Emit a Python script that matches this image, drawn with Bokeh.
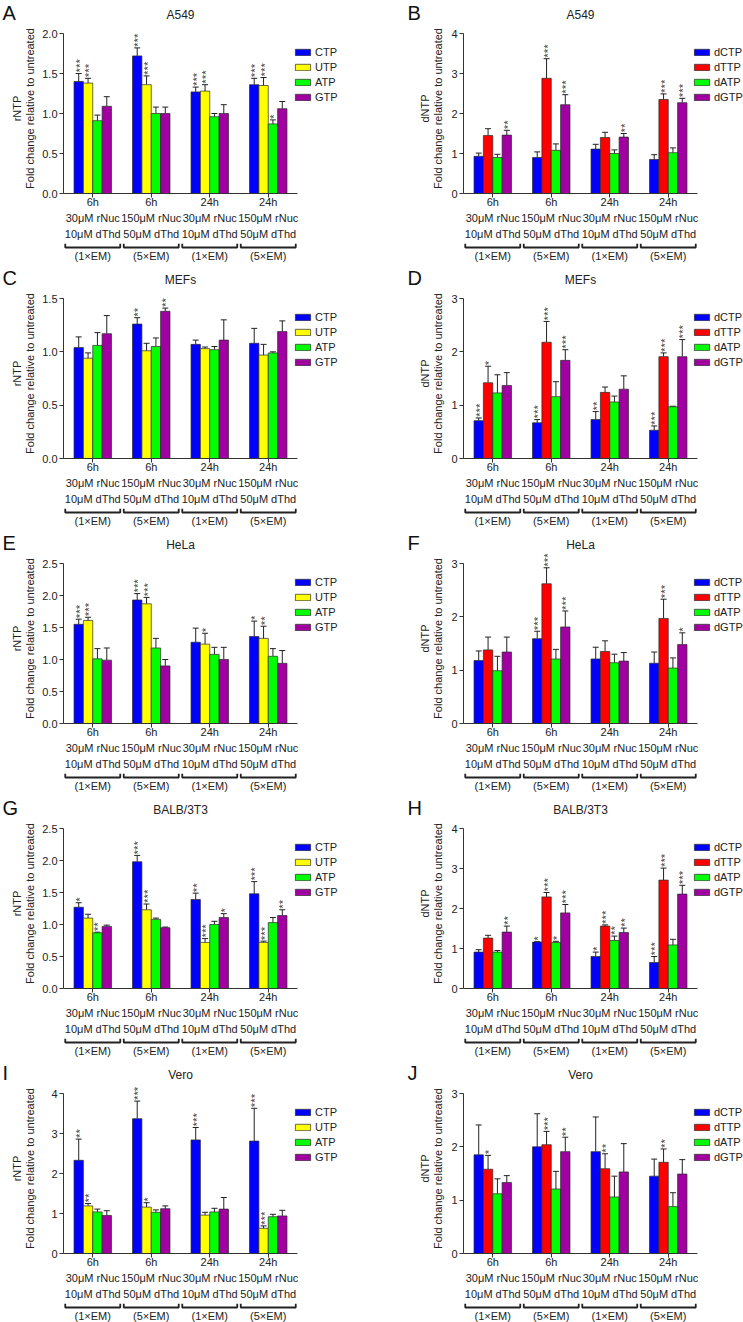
from bokeh.plotting import figure
from bokeh.models import (ColumnDataSource, Range1d, FixedTicker, Legend, LegendItem,
                          Whisker, TeeHead, NumeralTickFormatter)
from bokeh.layouts import column, row
from bokeh.embed import file_html
from bokeh.resources import INLINE
from bokeh.core.properties import value

FONT = "Liberation Sans"
INK = "#222222"

# ---------------------------------------------------------------- data
conditions = ["6h\n30μM rNuc\n10μM dThd", "6h\n150μM rNuc\n50μM dThd",
              "24h\n30μM rNuc\n10μM dThd", "24h\n150μM rNuc\n50μM dThd"]
regimens = ["(1×EM)", "(5×EM)", "(1×EM)", "(5×EM)"]

rntp_names = ["CTP", "UTP", "ATP", "GTP"]
dntp_names = ["dCTP", "dTTP", "dATP", "dGTP"]
rntp_colors = ["#0000ff", "#ffff00", "#00ff00", "#a000a0"]
dntp_colors = ["#0000ff", "#ff0000", "#00ff00", "#a000a0"]

# rows = nucleotide, columns = condition
a549_rntp_mean = [[1.40, 1.72, 1.27, 1.36], [1.38, 1.36, 1.28, 1.35],
                  [0.91, 1.00, 0.96, 0.87], [1.09, 1.00, 1.00, 1.06]]
a549_rntp_sem = [[0.10, 0.10, 0.06, 0.08], [0.06, 0.11, 0.08, 0.10],
                 [0.07, 0.08, 0.04, 0.05], [0.12, 0.08, 0.11, 0.09]]
a549_rntp_sig = [["***", "***", "***", "***"], ["***", "***", "***", "***"],
                 ["", "", "", "*"], ["", "", "", ""]]

a549_dntp_mean = [[0.93, 0.90, 1.11, 0.85], [1.45, 2.88, 1.40, 2.35],
                  [0.90, 1.08, 1.00, 1.02], [1.46, 2.22, 1.41, 2.27]]
a549_dntp_sem = [[0.08, 0.14, 0.12, 0.12], [0.17, 0.49, 0.13, 0.14],
                 [0.08, 0.16, 0.09, 0.12], [0.12, 0.25, 0.09, 0.11]]
a549_dntp_sig = [["", "", "", ""], ["", "***", "", "***"],
                 ["", "", "", ""], ["**", "***", "**", "***"]]

mefs_rntp_mean = [[1.04, 1.26, 1.07, 1.08], [0.94, 1.01, 1.03, 0.97],
                  [1.06, 1.05, 1.02, 0.99], [1.17, 1.38, 1.11, 1.19]]
mefs_rntp_sem = [[0.10, 0.06, 0.04, 0.14], [0.05, 0.07, 0.015, 0.10],
                 [0.12, 0.08, 0.03, 0.01], [0.17, 0.03, 0.19, 0.10]]
mefs_rntp_sig = [["", "**", "", ""], ["", "", "", ""],
                 ["", "", "", ""], ["", "**", "", ""]]

mefs_dntp_mean = [[0.71, 0.67, 0.73, 0.53], [1.42, 2.18, 1.24, 1.91],
                  [1.23, 1.16, 1.06, 0.97], [1.37, 1.84, 1.30, 1.91]]
mefs_dntp_sem = [[0.05, 0.06, 0.15, 0.08], [0.31, 0.39, 0.10, 0.07],
                 [0.34, 0.28, 0.11, 0.01], [0.24, 0.20, 0.25, 0.32]]
mefs_dntp_sig = [["***", "***", "**", "***"], ["*", "***", "", "***"],
                 ["", "", "", ""], ["", "***", "", "***"]]

hela_rntp_mean = [[1.55, 1.93, 1.27, 1.36], [1.61, 1.87, 1.24, 1.33],
                  [1.01, 1.18, 1.08, 1.05], [0.99, 0.90, 1.00, 0.94]]
hela_rntp_sem = [[0.08, 0.10, 0.22, 0.24], [0.05, 0.10, 0.17, 0.19],
                 [0.16, 0.15, 0.11, 0.12], [0.19, 0.10, 0.19, 0.20]]
hela_rntp_sig = [["***", "***", "", "*"], ["***", "***", "*", "**"],
                 ["", "", "", ""], ["", "", "", ""]]

hela_dntp_mean = [[1.18, 1.59, 1.21, 1.13], [1.38, 2.62, 1.35, 1.97],
                  [0.99, 1.21, 1.14, 1.04], [1.34, 1.81, 1.17, 1.48]]
hela_dntp_sem = [[0.18, 0.14, 0.22, 0.21], [0.24, 0.30, 0.20, 0.36],
                 [0.27, 0.18, 0.16, 0.19], [0.28, 0.30, 0.16, 0.22]]
hela_dntp_sig = [["", "***", "", ""], ["", "***", "", "***"],
                 ["", "", "", ""], ["", "***", "", "*"]]

balb_rntp_mean = [[1.27, 1.98, 1.39, 1.48], [1.10, 1.23, 0.72, 0.72],
                  [0.87, 1.08, 1.00, 1.03], [0.97, 0.95, 1.11, 1.14]]
balb_rntp_sem = [[0.07, 0.10, 0.10, 0.19], [0.06, 0.09, 0.06, 0.02],
                 [0.01, 0.02, 0.05, 0.08], [0.02, 0.01, 0.06, 0.09]]
balb_rntp_sig = [["*", "***", "**", "***"], ["", "***", "***", "***"],
                 ["**", "", "", ""], ["", "", "*", "**"]]

balb_dntp_mean = [[0.91, 1.16, 0.80, 0.65], [1.26, 2.29, 1.56, 2.71],
                  [0.91, 1.15, 1.20, 1.09], [1.41, 1.89, 1.40, 2.36]]
balb_dntp_sem = [[0.06, 0.01, 0.11, 0.15], [0.07, 0.11, 0.03, 0.30],
                 [0.04, 0.03, 0.11, 0.14], [0.15, 0.21, 0.11, 0.22]]
balb_dntp_sig = [["", "*", "*", "***"], ["", "***", "***", "***"],
                 ["", "*", "**", ""], ["**", "***", "**", "***"]]

vero_rntp_mean = [[2.33, 3.37, 2.84, 2.81], [1.19, 1.16, 0.96, 0.63],
                  [1.04, 1.03, 1.04, 0.92], [0.95, 1.12, 1.11, 0.94]]
vero_rntp_sem = [[0.53, 0.44, 0.31, 0.82], [0.06, 0.11, 0.07, 0.06],
                 [0.07, 0.06, 0.09, 0.06], [0.12, 0.07, 0.29, 0.14]]
vero_rntp_sig = [["**", "***", "***", "***"], ["**", "*", "", "***"],
                 ["", "", "", ""], ["", "", "", ""]]

vero_dntp_mean = [[1.85, 2.00, 1.91, 1.45], [1.58, 2.04, 1.59, 1.71],
                  [1.12, 1.21, 1.06, 0.88], [1.33, 1.91, 1.53, 1.49]]
vero_dntp_sem = [[0.56, 0.62, 0.65, 0.32], [0.26, 0.25, 0.28, 0.25],
                 [0.28, 0.33, 0.39, 0.26], [0.13, 0.27, 0.53, 0.27]]
vero_dntp_sig = [["", "", "", ""], ["*", "***", "**", "**"],
                 ["", "", "", ""], ["", "**", "", ""]]

# ---------------------------------------------------------------- layout
AXIS_W, AXIS_H = 234, 160    # drawn length of the category and value axes
HEAD_H = 23                  # strip holding the panel letter and the cell-line title
HEADROOM = 10                # frame space above the value axis, for the star marks
BOTTOM = 50                  # room below the frame for the category labels
ROW_H = 265
GROUP_W = 0.64
BAR_W = GROUP_W / 4


def bare_figure(width, height, x_range, y_range, bl=0):
    f = figure(width=width, height=height, frame_width=width - bl,
               frame_height=height, x_range=x_range, y_range=y_range,
               min_border_left=bl, min_border_right=0, min_border_top=0,
               min_border_bottom=0, x_axis_type=None, y_axis_type=None,
               toolbar_location=None, output_backend="svg")
    f.outline_line_color = None
    f.frame_align = False
    return f


def make_panel(letter, title, kind, mean, sem, sig, ymax, ystep, side, row_h):
    names = rntp_names if kind == "rNTP" else dntp_names
    colors = rntp_colors if kind == "rNTP" else dntp_colors
    left = side == "left"
    width = 372 if left else 371
    bl = 63 if left else 91
    fw = width - bl                       # frame reaches the panel's right edge
    fh = AXIS_H + HEADROOM
    n = len(conditions)
    xmax = n * fw / AXIS_W                # same spacing per group in every panel
    ytop = ymax * fh / AXIS_H
    centers = [i + 0.5 for i in range(n)]
    decimals = ystep < 1

    # header: panel letter + title
    h = bare_figure(width, HEAD_H, Range1d(0, width), Range1d(HEAD_H, 0))
    h.text(x=[2 if left else 35], y=[12], text=[letter], text_baseline="middle",
           text_font=value(FONT), text_font_size="20px", text_color="#111111")
    h.text(x=[bl + AXIS_W / 2], y=[14], text=[title], text_align="center",
           text_baseline="middle", text_font=value(FONT), text_font_size="12px",
           text_color=INK)

    p = figure(frame_width=fw, frame_height=fh,
               x_range=Range1d(0, xmax), y_range=Range1d(0, ytop),
               min_border_left=bl, min_border_right=0,
               min_border_top=0, min_border_bottom=BOTTOM,
               toolbar_location=None, output_backend="svg")
    p.frame_align = False
    p.outline_line_color = None
    p.xgrid.visible = False
    p.ygrid.visible = False

    for ax in (p.xaxis[0], p.yaxis[0]):
        ax.axis_line_color = "#333333"
        ax.axis_line_width = 1
        ax.major_tick_line_color = "#333333"
        ax.major_tick_in = 0
        ax.major_tick_out = 4
        ax.minor_tick_out = 0
        ax.minor_tick_in = 0
        ax.major_label_text_font = FONT
        ax.major_label_text_font_size = "11px"
        ax.major_label_text_color = INK

    xa = p.xaxis[0]
    xa.bounds = (0, n)
    xa.ticker = FixedTicker(ticks=centers, minor_ticks=[])
    xa.major_label_overrides = {c: lab for c, lab in zip(centers, conditions)}
    xa.major_label_standoff = -2
    xa.major_label_text_line_height = 1.35

    ya = p.yaxis[0]
    ya.bounds = (0, ymax)
    nt = int(round(ymax / ystep))
    ya.ticker = FixedTicker(ticks=[k * ystep for k in range(nt + 1)], minor_ticks=[])
    ya.formatter = NumeralTickFormatter(format="0.0" if decimals else "0")
    ya.major_label_standoff = 2
    ya.axis_label = kind + "\nFold change relative to untreated"
    ya.axis_label_text_font = FONT
    ya.axis_label_text_font_size = "11px"
    ya.axis_label_text_font_style = "normal"
    ya.axis_label_text_color = INK
    ya.axis_label_text_line_height = 1.1
    if left:
        ya.axis_label_standoff = 3 if decimals else 12
    else:
        ya.axis_label_standoff = 4

    items = []
    for j, name in enumerate(names):
        xs = [c + (j - 1.5) * BAR_W for c in centers]
        ups = [m + s for m, s in zip(mean[j], sem[j])]
        src = ColumnDataSource(dict(x=xs, top=mean[j], up=ups, sig=sig[j]))
        r = p.vbar(x="x", top="top", bottom=0, width=BAR_W, source=src,
                   fill_color=colors[j], line_color="#2a2a2a", line_width=0.7)
        items.append(LegendItem(label=name, renderers=[r]))
        p.add_layout(Whisker(source=src, base="x", lower="top", upper="up",
                             dimension="height", lower_head=None,
                             upper_head=TeeHead(size=6, line_color=INK, line_width=1),
                             line_color=INK, line_width=1))
        p.text(x="x", y="up", text="sig", source=src, angle=1.5708,
               text_align="left", text_baseline="middle", x_offset=1, y_offset=-1,
               text_font=value(FONT), text_font_size="11.5px", text_color="#333333",
               text_alpha=0.95)

    legend = Legend(items=items, location=(AXIS_W - 4 if left else AXIS_W - 5, 90),
                    orientation="vertical", glyph_width=19, glyph_height=8,
                    label_height=8, spacing=3, padding=0, margin=0,
                    label_standoff=3, border_line_color=None,
                    background_fill_alpha=0, label_text_font=FONT,
                    label_text_font_size="11px", label_text_color=INK)
    p.add_layout(legend)

    # treatment brackets beneath the category labels
    bh = row_h - HEAD_H - (fh + BOTTOM)
    b = bare_figure(width, bh, p.x_range, Range1d(bh, 0), bl)
    half = 0.47
    bxs = [[c - half, c - half, c + half, c + half] for c in centers]
    bys = [[0, 4, 4, 0] for _ in centers]
    b.multi_line(bxs, bys, line_color=INK, line_width=1.8)
    b.text(x=centers, y=[12] * n, text=regimens, text_align="center",
           text_baseline="middle", text_font=value(FONT), text_font_size="11px",
           text_color=INK)
    return column(h, p, b)


panels = [
    ("A", "A549", "rNTP", a549_rntp_mean, a549_rntp_sem, a549_rntp_sig, 2.0, 0.5),
    ("B", "A549", "dNTP", a549_dntp_mean, a549_dntp_sem, a549_dntp_sig, 4, 1),
    ("C", "MEFs", "rNTP", mefs_rntp_mean, mefs_rntp_sem, mefs_rntp_sig, 1.5, 0.5),
    ("D", "MEFs", "dNTP", mefs_dntp_mean, mefs_dntp_sem, mefs_dntp_sig, 3, 1),
    ("E", "HeLa", "rNTP", hela_rntp_mean, hela_rntp_sem, hela_rntp_sig, 2.5, 0.5),
    ("F", "HeLa", "dNTP", hela_dntp_mean, hela_dntp_sem, hela_dntp_sig, 3, 1),
    ("G", "BALB/3T3", "rNTP", balb_rntp_mean, balb_rntp_sem, balb_rntp_sig, 2.5, 0.5),
    ("H", "BALB/3T3", "dNTP", balb_dntp_mean, balb_dntp_sem, balb_dntp_sig, 4, 1),
    ("I", "Vero", "rNTP", vero_rntp_mean, vero_rntp_sem, vero_rntp_sig, 4, 1),
    ("J", "Vero", "dNTP", vero_dntp_mean, vero_dntp_sem, vero_dntp_sig, 3, 1),
]

rows = []
for k in range(0, len(panels), 2):
    row_h = ROW_H if k < len(panels) - 2 else 262
    pair = []
    for side, spec in zip(("left", "right"), panels[k:k + 2]):
        pair.append(make_panel(*spec, side=side, row_h=row_h))
    rows.append(row(*pair))

layout = column(*rows)
open("out.html", "w").write(file_html(layout, INLINE))
